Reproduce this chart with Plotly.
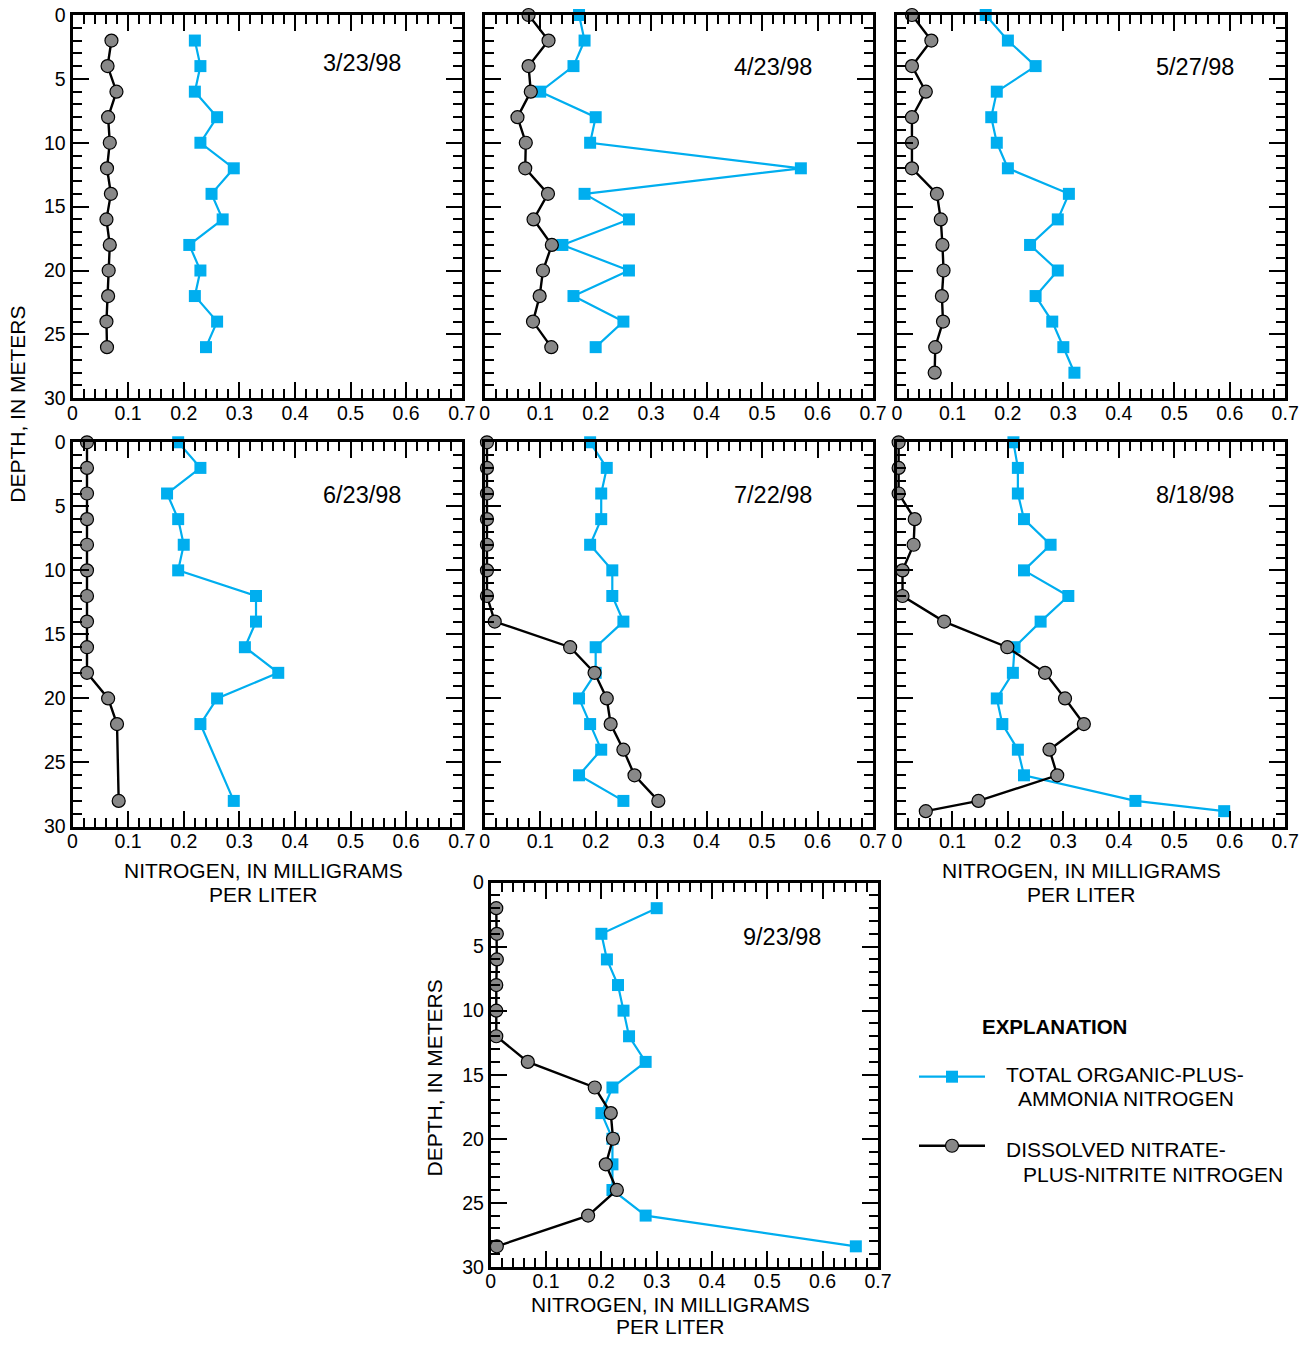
import plotly.graph_objects as go

W, H = 1312, 1345
# observed mapping of the page into the returned picture (picture = S*page + C)
SX, CX = 0.985, 5.5
SY, CY = 0.983, 10.0

# ---------------- DATA ----------------
dates = ["3/23/98", "4/23/98", "5/27/98", "6/23/98", "7/22/98", "8/18/98", "9/23/98"]

depth_0323 = [2, 4, 6, 8, 10, 12, 14, 16, 18, 20, 22, 24, 26]
org_0323 = [0.22, 0.23, 0.22, 0.26, 0.23, 0.29, 0.25, 0.27, 0.21, 0.23, 0.22, 0.26, 0.24]
nit_0323 = [0.070, 0.063, 0.079, 0.064, 0.067, 0.062, 0.069, 0.061, 0.067, 0.065, 0.064, 0.061, 0.062]

depth_0423 = [0, 2, 4, 6, 8, 10, 12, 14, 16, 18, 20, 22, 24, 26]
org_0423 = [0.17, 0.18, 0.16, 0.10, 0.20, 0.19, 0.57, 0.18, 0.26, 0.14, 0.26, 0.16, 0.25, 0.20]
nit_0423 = [0.079, 0.115, 0.079, 0.083, 0.059, 0.074, 0.073, 0.114, 0.088, 0.121, 0.105, 0.099, 0.087, 0.120]

depth_0527 = [0, 2, 4, 6, 8, 10, 12, 14, 16, 18, 20, 22, 24, 26, 28]
org_0527 = [0.16, 0.20, 0.25, 0.18, 0.17, 0.18, 0.20, 0.31, 0.29, 0.24, 0.29, 0.25, 0.28, 0.30, 0.32]
nit_0527 = [0.027, 0.062, 0.027, 0.052, 0.027, 0.027, 0.027, 0.072, 0.079, 0.082, 0.084, 0.081, 0.083, 0.069, 0.068]

depth_0623 = [0, 2, 4, 6, 8, 10, 12, 14, 16, 18, 20, 22, 28]
org_0623 = [0.19, 0.23, 0.17, 0.19, 0.20, 0.19, 0.33, 0.33, 0.31, 0.37, 0.26, 0.23, 0.29]
nit_0623 = [0.026, 0.026, 0.026, 0.026, 0.026, 0.026, 0.026, 0.026, 0.026, 0.026, 0.064, 0.080, 0.083]

depth_0722 = [0, 2, 4, 6, 8, 10, 12, 14, 16, 18, 20, 22, 24, 26, 28]
org_0722 = [0.19, 0.22, 0.21, 0.21, 0.19, 0.23, 0.23, 0.25, 0.20, 0.20, 0.17, 0.19, 0.21, 0.17, 0.25]
nit_0722 = [0.004, 0.004, 0.004, 0.004, 0.004, 0.004, 0.004, 0.018, 0.154, 0.198, 0.220, 0.227, 0.250, 0.270, 0.313]

depth_0818 = [0, 2, 4, 6, 8, 10, 12, 14, 16, 18, 20, 22, 24, 26, 28, 28.8]
org_0818 = [0.21, 0.218, 0.218, 0.229, 0.277, 0.229, 0.309, 0.259, 0.212, 0.209, 0.18, 0.19, 0.218, 0.229, 0.43, 0.59]
nit_0818 = [0.003, 0.003, 0.003, 0.032, 0.030, 0.010, 0.010, 0.085, 0.199, 0.267, 0.303, 0.337, 0.275, 0.289, 0.147, 0.052]

depth_0923 = [2, 4, 6, 8, 10, 12, 14, 16, 18, 20, 22, 24, 26, 28.4]
org_0923 = [0.30, 0.20, 0.21, 0.23, 0.24, 0.25, 0.28, 0.22, 0.20, 0.22, 0.22, 0.22, 0.28, 0.66]
nit_0923 = [0.010, 0.011, 0.011, 0.010, 0.010, 0.010, 0.067, 0.188, 0.217, 0.221, 0.208, 0.228, 0.176, 0.011]

x_ticks = [0, 0.1, 0.2, 0.3, 0.4, 0.5, 0.6, 0.7]
y_ticks = [0, 5, 10, 15, 20, 25, 30]

series_org_name = "TOTAL ORGANIC-PLUS-<br>AMMONIA NITROGEN"
series_nit_name = "DISSOLVED NITRATE-<br>PLUS-NITRITE NITROGEN"

# ---------------- STYLE / LAYOUT ----------------
BLUE = "#00AEEF"
GRAY = "#888888"
FONT = "Liberation Sans, Arial, sans-serif"

# panel pixel boxes (picture coords): left, right, top, bottom, y-labels?, date-label pos
panels = [
    (73, 462, 14, 397, True, 0.745, 0.875),
    (485, 873, 14, 397, False, 0.742, 0.864),
    (897, 1285, 14, 397, False, 0.768, 0.864),
    (73, 462, 441, 825, True, 0.745, 0.862),
    (485, 873, 441, 825, False, 0.742, 0.862),
    (897, 1285, 441, 825, False, 0.768, 0.862),
    (491, 878, 881, 1265, True, 0.752, 0.859),
]
data = [
    (depth_0323, org_0323, nit_0323),
    (depth_0423, org_0423, nit_0423),
    (depth_0527, org_0527, nit_0527),
    (depth_0623, org_0623, nit_0623),
    (depth_0722, org_0722, nit_0722),
    (depth_0818, org_0818, nit_0818),
    (depth_0923, org_0923, nit_0923),
]


def px(x):
    return ((x - CX) / SX) / W


def py(y):
    return 1 - ((y - CY) / SY) / H


fig = go.Figure()
layout = dict(
    width=W, height=H, margin=dict(l=0, r=0, t=0, b=0),
    paper_bgcolor="white", plot_bgcolor="white", showlegend=False,
    font=dict(family=FONT, color="black"),
)
annotations = []

for i, ((l, r, t, b, ylab, ax_, ay_), (d, o, n)) in enumerate(zip(panels, data)):
    k = "" if i == 0 else str(i + 1)
    xa = "xaxis" + k
    ya = "yaxis" + k
    common = dict(
        ticks="inside", tickwidth=1.5, tickcolor="black", ticklen=16,
        showline=True, linewidth=3, linecolor="black", mirror="ticks",
        showgrid=False, zeroline=False, fixedrange=True,
        tickfont=dict(family=FONT, size=19.5, color="black"),
    )
    layout[xa] = dict(
        domain=[px(l), px(r)], range=[0, 0.7], tickvals=x_ticks,
        ticktext=[("%g" % v) for v in x_ticks], anchor="y" + k,
        ticklabelstandoff=-5,
        minor=dict(dtick=0.02, tick0=0, ticks="inside", ticklen=9, tickwidth=1.5,
                   tickcolor="black", showgrid=False),
        **common,
    )
    layout[ya] = dict(
        domain=[py(b), py(t)], range=[30, 0], tickvals=y_ticks,
        ticktext=[str(v) for v in y_ticks], anchor="x" + k,
        showticklabels=ylab,
        minor=dict(dtick=1, tick0=0, ticks="inside", ticklen=9, tickwidth=1.5,
                   tickcolor="black", showgrid=False),
        **common,
    )
    fig.add_trace(go.Scatter(
        x=o, y=d, xaxis="x" + k, yaxis="y" + k, mode="lines+markers",
        line=dict(color=BLUE, width=2.2),
        marker=dict(symbol="square", size=12, color=BLUE, line=dict(width=0)),
        cliponaxis=False, name=series_org_name,
    ))
    fig.add_trace(go.Scatter(
        x=n, y=d, xaxis="x" + k, yaxis="y" + k, mode="lines+markers",
        line=dict(color="black", width=2.4),
        marker=dict(symbol="circle", size=13, color=GRAY, line=dict(width=1.2, color="black")),
        cliponaxis=False, name=series_nit_name,
    ))
    annotations.append(dict(
        text=dates[i], xref="x%s domain" % k, yref="y%s domain" % k,
        x=ax_, y=ay_, showarrow=False, xanchor="center", yanchor="middle",
        font=dict(family=FONT, size=23.5, color="black"),
    ))

# legend area (hidden axis)
layout["xaxis8"] = dict(domain=[px(919), px(985)], range=[0, 1], visible=False,
                        anchor="y8", fixedrange=True)
layout["yaxis8"] = dict(domain=[py(1160), py(1060)], range=[1160, 1060], visible=False,
                        anchor="x8", fixedrange=True)
fig.add_trace(go.Scatter(x=[0, 1], y=[1075, 1075], xaxis="x8", yaxis="y8", mode="lines",
                         line=dict(color=BLUE, width=2.2), cliponaxis=False, hoverinfo="skip"))
fig.add_trace(go.Scatter(x=[0.5], y=[1075], xaxis="x8", yaxis="y8", mode="markers",
                         marker=dict(symbol="square", size=12, color=BLUE), cliponaxis=False,
                         hoverinfo="skip"))
fig.add_trace(go.Scatter(x=[0, 1], y=[1144, 1144], xaxis="x8", yaxis="y8", mode="lines",
                         line=dict(color="black", width=2.4), cliponaxis=False, hoverinfo="skip"))
fig.add_trace(go.Scatter(x=[0.5], y=[1144], xaxis="x8", yaxis="y8", mode="markers",
                         marker=dict(symbol="circle", size=13, color=GRAY,
                                     line=dict(width=1.2, color="black")),
                         cliponaxis=False, hoverinfo="skip"))


def text_at(txt, x, y, size=21, anchor="center", bold=False, angle=0):
    if bold:
        txt = "<b>" + txt + "</b>"
    annotations.append(dict(
        text=txt, xref="paper", yref="paper", x=px(x), y=py(y), showarrow=False,
        xanchor=anchor, yanchor="middle", textangle=angle,
        font=dict(family=FONT, size=size, color="black"),
    ))


# axis titles
text_at("DEPTH, IN METERS", 18, 403, angle=-90)
text_at("DEPTH, IN METERS", 435, 1076, angle=-90)
for cx, y1, y2 in [(264, 869, 893), (1081, 869, 893), (671, 1303, 1325)]:
    text_at("NITROGEN, IN MILLIGRAMS", cx, y1)
    text_at("PER LITER", cx, y2)

# legend texts
text_at("EXPLANATION", 980, 1025, size=20.5, anchor="left", bold=True)
text_at("TOTAL ORGANIC-PLUS-", 1004, 1073, anchor="left")
text_at("AMMONIA NITROGEN", 1016, 1097, anchor="left")
text_at("DISSOLVED NITRATE-", 1004, 1148, anchor="left")
text_at("PLUS-NITRITE NITROGEN", 1021, 1173, anchor="left")

layout["annotations"] = annotations
fig.update_layout(**layout)

fig.write_html("out.html", config={"displayModeBar": False},
               post_script="document.body.style.margin='0';document.body.style.overflow='hidden';")
